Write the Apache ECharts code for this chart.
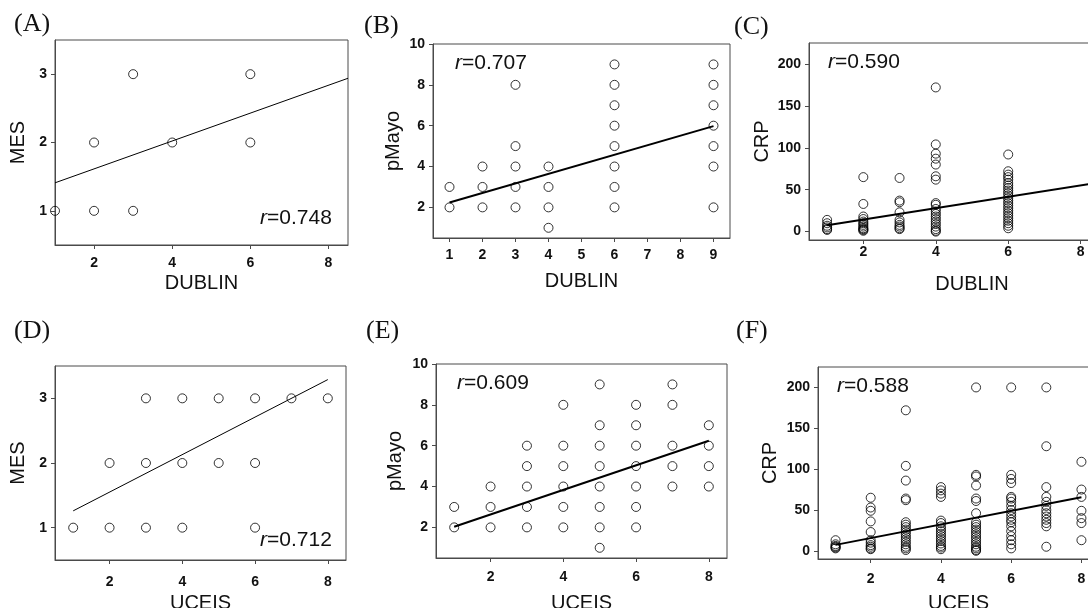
<!DOCTYPE html>
<html>
<head>
<meta charset="utf-8">
<script src="https://cdn.jsdelivr.net/npm/echarts@6/dist/echarts.min.js"></script>
<style>
  html, body { margin: 0; padding: 0; background: #fff; }
  #chart { width: 1088px; height: 608px; }
</style>
</head>
<body>
<div id="chart"></div>
<script>
// (A) MES vs DUBLIN
var dublinA = [1, 2, 3, 2, 4, 6, 3, 6];
var mesA = [1, 1, 1, 2, 2, 2, 3, 3];
var fitA = [[1, 1.41], [8.5, 2.94]];

// (B) pMayo vs DUBLIN, one list of y values per DUBLIN score
var dublinB = [1, 2, 3, 4, 6, 9];
var pMayoB = [
    [2, 3],
    [2, 3, 4],
    [2, 3, 4, 5, 8],
    [1, 2, 3, 4],
    [2, 3, 4, 5, 6, 7, 8, 9],
    [2, 4, 5, 6, 7, 8, 9]
];
var fitB = [[1, 2.24], [9, 5.98]];

// (C) CRP vs DUBLIN
var dublinC = [1, 2, 3, 4, 6];
var crpC = [
    [14, 10, 7, 5, 3, 2],
    [65, 33, 18, 15, 12, 10, 8, 6, 4, 3, 2, 1],
    [64, 37, 35, 23, 14, 11, 8, 6, 4, 3],
    [172, 104, 93, 87, 80, 66, 62, 34, 32, 27, 24, 21, 18, 15, 12, 9, 6, 3, 1, 0],
    [92, 72, 68, 65, 62, 58, 55, 52, 49, 46, 43, 40, 37, 34, 31, 28, 25, 22, 19, 16, 13, 10, 7, 4]
];
var fitC = [[1, 7.5], [9, 62]];

// (D) MES vs UCEIS
var uceisD = [1, 2, 3, 4, 5, 6, 7, 8];
var mesD = [[1], [1, 2], [1, 2, 3], [1, 2, 3], [2, 3], [1, 2, 3], [3], [3]];
var fitD = [[1, 1.26], [8, 3.29]];

// (E) pMayo vs UCEIS
var uceisE = [1, 2, 3, 4, 5, 6, 7, 8];
var pMayoE = [
    [2, 3],
    [2, 3, 4],
    [2, 3, 4, 5, 6],
    [2, 3, 4, 5, 6, 8],
    [1, 2, 3, 4, 5, 6, 7, 9],
    [2, 3, 4, 5, 6, 7, 8],
    [4, 5, 6, 8, 9],
    [4, 5, 6, 7]
];
var fitE = [[1, 2.03], [8, 6.24]];

// (F) CRP vs UCEIS
var uceisF = [1, 2, 3, 4, 5, 6, 7, 8];
var crpF = [
    [13, 8, 6, 5, 4, 3],
    [65, 53, 49, 36, 23, 13, 10, 7, 5, 3, 2],
    [172, 104, 86, 64, 62, 35, 32, 29, 26, 23, 20, 17, 14, 11, 8, 5, 3, 1],
    [78, 74, 70, 66, 37, 34, 30, 27, 24, 21, 18, 15, 12, 9, 6, 4, 2],
    [200, 93, 91, 80, 64, 61, 46, 35, 32, 29, 26, 23, 20, 17, 14, 11, 8, 5, 3, 1, 0],
    [200, 93, 88, 83, 66, 64, 60, 55, 50, 46, 42, 38, 35, 30, 24, 18, 13, 8, 3],
    [200, 128, 78, 66, 60, 55, 50, 46, 42, 38, 34, 30, 5],
    [109, 75, 66, 49, 40, 34, 13]
];
var fitF = [[1, 7.3], [8, 65.5]];

var panelLabels = ['(A)', '(B)', '(C)', '(D)', '(E)', '(F)'];
var rLabels = ['0.748', '0.707', '0.590', '0.712', '0.609', '0.588'];

function pairs(xs, ys) {
    return xs.map(function (x, i) { return [x, ys[i]]; });
}
function columns(xs, cols) {
    var out = [];
    xs.forEach(function (x, i) {
        cols[i].forEach(function (y) { out.push([x, y]); });
    });
    return out;
}

var myChart = echarts.init(document.getElementById('chart'));

// C and F run past the right edge of the picture, as in the original crop
var grids = [
    { left: 55, top: 40, width: 293, height: 205 },
    { left: 433, top: 44, width: 297, height: 194 },
    { left: 809, top: 43, width: 326, height: 197 },
    { left: 55, top: 366, width: 291, height: 194 },
    { left: 436, top: 364, width: 291, height: 194 },
    { left: 818, top: 367, width: 281, height: 192 }
];

var axisColor = '#4a4a4a';
var labelFont = { fontFamily: 'Liberation Sans', fontWeight: 'bold', fontSize: 14, color: '#111' };
var nameFont = { fontFamily: 'Liberation Sans', fontSize: 20, color: '#111' };

function xAxis(i, min, max, ticks, name, gap, margin) {
    return {
        gridIndex: i, type: 'value', min: min, max: max,
        name: name, nameLocation: 'middle', nameGap: gap,
        nameTextStyle: nameFont,
        axisLine: { onZero: false, lineStyle: { color: axisColor } },
        axisTick: { length: 4, customValues: ticks, lineStyle: { color: axisColor } },
        axisLabel: Object.assign({ customValues: ticks, margin: margin }, labelFont),
        splitLine: { show: false }
    };
}
function yAxis(i, min, max, ticks, name, gap) {
    return {
        gridIndex: i, type: 'value', min: min, max: max,
        name: name, nameLocation: 'middle', nameGap: gap, nameRotate: 90,
        nameTextStyle: nameFont,
        axisLine: { onZero: false, lineStyle: { color: axisColor } },
        axisTick: { length: 4, customValues: ticks, lineStyle: { color: axisColor } },
        axisLabel: Object.assign({ customValues: ticks, margin: 8 }, labelFont),
        splitLine: { show: false }
    };
}

var scatterData = [
    pairs(dublinA, mesA),
    columns(dublinB, pMayoB),
    columns(dublinC, crpC),
    columns(uceisD, mesD),
    columns(uceisE, pMayoE),
    columns(uceisF, crpF)
];
var fits = [fitA, fitB, fitC, fitD, fitE, fitF];
var fitWidths = [1, 2, 2, 1, 2, 2];

var series = [];
for (var i = 0; i < 6; i++) {
    series.push({
        type: 'scatter', xAxisIndex: i, yAxisIndex: i,
        symbol: 'circle', symbolSize: 9,
        itemStyle: { color: 'rgba(0,0,0,0)', borderColor: '#000', borderWidth: 1 },
        data: scatterData[i]
    });
    series.push({
        type: 'line', xAxisIndex: i, yAxisIndex: i,
        showSymbol: false, symbol: 'none',
        lineStyle: { color: '#000', width: fitWidths[i] },
        data: fits[i]
    });
}

var labelPos = [[14, 11], [364, 13], [734, 14], [14, 318], [366, 318], [736, 318]];
var rPos = [[260, 208], [455, 53], [828, 52], [260, 530], [457, 373], [837, 376]];
var titles = [];
for (var j = 0; j < 6; j++) {
    titles.push({
        text: panelLabels[j], left: labelPos[j][0], top: labelPos[j][1], padding: 0,
        textStyle: { fontFamily: 'Liberation Serif', fontWeight: 'normal', fontSize: 26, color: '#111' }
    });
    titles.push({
        text: '{i|r}=' + rLabels[j], left: rPos[j][0], top: rPos[j][1], padding: 0,
        textStyle: {
            fontFamily: 'Liberation Sans', fontWeight: 'normal', fontSize: 21, color: '#111',
            rich: { i: { fontFamily: 'Liberation Sans', fontStyle: 'italic', fontSize: 21, color: '#111' } }
        }
    });
}

var option = {
    animation: false,
    backgroundColor: '#fff',
    title: titles,
    grid: grids.map(function (g) {
        return Object.assign({ show: true, borderColor: axisColor, borderWidth: 1, outerBoundsMode: 'none' }, g);
    }),
    xAxis: [
        xAxis(0, 1, 8.5, [2, 4, 6, 8], 'DUBLIN', 28, 11),
        xAxis(1, 0.5, 9.5, [1, 2, 3, 4, 5, 6, 7, 8, 9], 'DUBLIN', 33, 10),
        xAxis(2, 0.5, 9.5, [2, 4, 6, 8], 'DUBLIN', 34, 5),
        xAxis(3, 0.5, 8.5, [2, 4, 6, 8], 'UCEIS', 33, 15),
        xAxis(4, 0.5, 8.5, [2, 4, 6, 8], 'UCEIS', 35, 12),
        xAxis(5, 0.5, 8.5, [2, 4, 6, 8], 'UCEIS', 34, 13)
    ],
    yAxis: [
        yAxis(0, 0.5, 3.5, [1, 2, 3], 'MES', 27),
        yAxis(1, 0.5, 10, [2, 4, 6, 8, 10], 'pMayo', 30),
        yAxis(2, -10, 225, [0, 50, 100, 150, 200], 'CRP', 37),
        yAxis(3, 0.5, 3.5, [1, 2, 3], 'MES', 27),
        yAxis(4, 0.5, 10, [2, 4, 6, 8, 10], 'pMayo', 31),
        yAxis(5, -10, 225, [0, 50, 100, 150, 200], 'CRP', 38)
    ],
    series: series
};

myChart.setOption(option);
</script>
</body>
</html>
